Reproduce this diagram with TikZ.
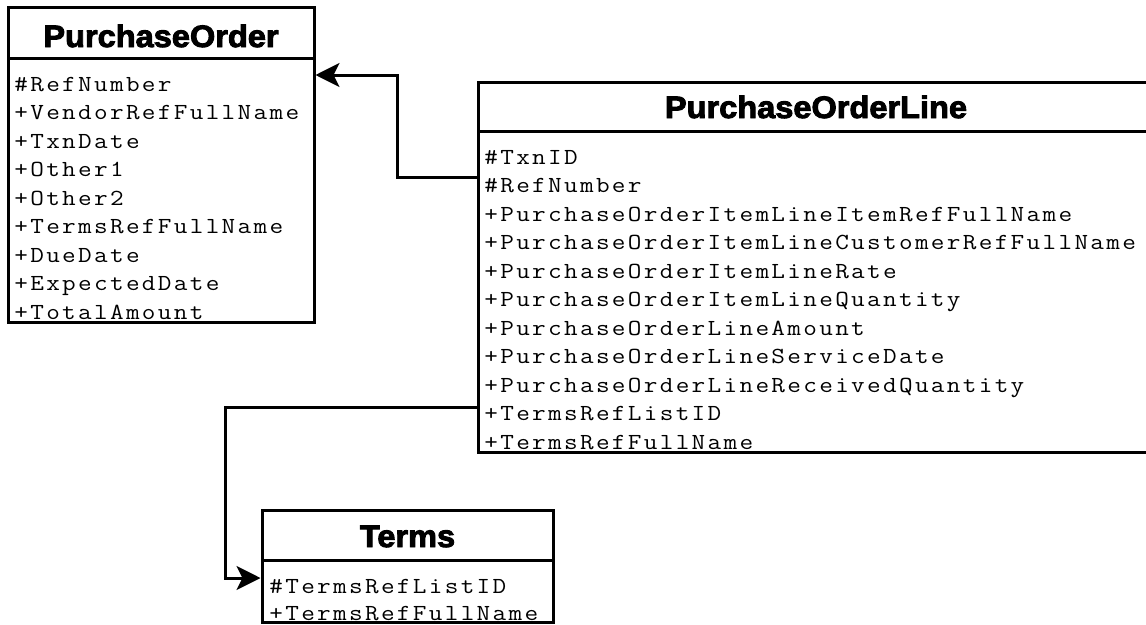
\documentclass[tikz,border=0pt]{standalone}
\usepackage{fontspec}
\usepackage{graphicx}
\usetikzlibrary{arrows.meta}
\newfontfamily\headfont[FakeStretch=1.05,BoldFeatures={FakeBold=3}]{Liberation Sans}
% typewriter text on a fixed, wide character pitch
\makeatletter
\newcommand\spacedmono[1]{\@tfor\sm@c:=#1\do{\makebox[15.95pt][c]{\scalebox{1.15}[1]{\sm@c}}}}
\makeatother
\tikzset{
  box/.style={draw, line width=3pt, fill=white, inner sep=0pt},
  hdrtext/.style={anchor=base, inner sep=0pt, font=\headfont\bfseries\fontsize{31}{31}\selectfont},
  attr/.style={anchor=base west, inner sep=0pt, font=\ttfamily\fontsize{23}{28.5}\selectfont},
  conn/.style={line width=3pt},
  tip/.style={-{Stealth[length=24pt,width=24pt,inset=6pt]}}
}
\begin{document}
\begin{tikzpicture}[x=1pt,y=-1pt]
\useasboundingbox (0,0) rectangle (1146,624);
\clip (0,0) rectangle (1146,624);

% PurchaseOrder class
\node[box, minimum width=306pt, minimum height=51pt] (poh) at (161,32.5) {};
\node[box, minimum width=306pt, minimum height=264pt] (pob) at (161,190) {};
\node[hdrtext] (pot) at (161,47) {PurchaseOrder};
\foreach \t [count=\i from 0] in {\#RefNumber,+VendorRefFullName,+TxnDate,+Other1,+Other2,+TermsRefFullName,+DueDate,+ExpectedDate,+TotalAmount}
  \node[attr] (po-\i) at (13,{91+28.5*\i}) {\expandafter\spacedmono\expandafter{\t}};

% PurchaseOrderLine class
\node[box, minimum width=676pt, minimum height=49pt] (polh) at (816,106.5) {};
\node[box, minimum width=676pt, minimum height=321pt] (polb) at (816,291.5) {};
\node[hdrtext] (polt) at (816,118) {PurchaseOrderLine};
\foreach \t [count=\i from 0] in {\#TxnID,\#RefNumber,+PurchaseOrderItemLineItemRefFullName,+PurchaseOrderItemLineCustomerRefFullName,+PurchaseOrderItemLineRate,+PurchaseOrderItemLineQuantity,+PurchaseOrderLineAmount,+PurchaseOrderLineServiceDate,+PurchaseOrderLineReceivedQuantity,+TermsRefListID,+TermsRefFullName}
  \node[attr] (pol-\i) at (483,{164+28.5*\i}) {\expandafter\spacedmono\expandafter{\t}};

% Terms class
\node[box, minimum width=291pt, minimum height=50pt] (th) at (407.5,535) {};
\node[box, minimum width=291pt, minimum height=62pt] (tb) at (407.5,591) {};
\node[hdrtext] (tt) at (407.5,547) {Terms};
\node[attr] (t-0) at (268,593) {\spacedmono{\#TermsRefListID}};
\node[attr] (t-1) at (268,620.5) {\spacedmono{+TermsRefFullName}};

% associations
\draw[conn,tip] (polb.west |- 0,177) -| (397,75) -- (pob.east |- 0,75);
\draw[conn,tip] (polb.west |- 0,407) -| (225,578) -- (tb.west |- 0,578);
\end{tikzpicture}
\end{document}
